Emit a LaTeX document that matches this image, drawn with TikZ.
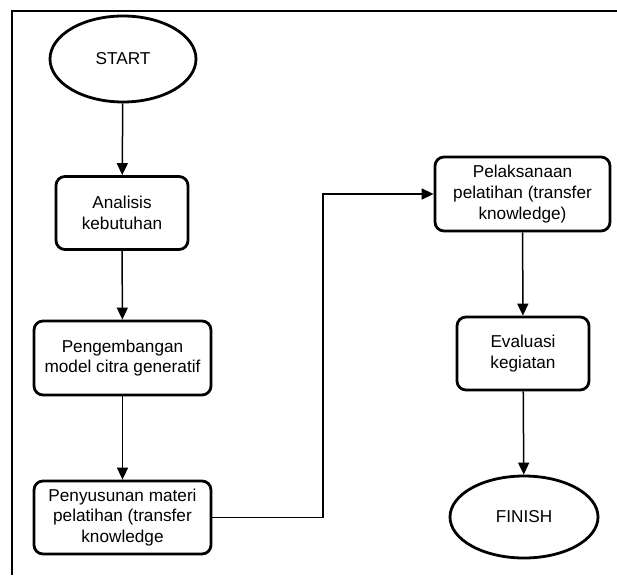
\documentclass[tikz,border=0pt]{standalone}
\usepackage{fontspec}
\setmainfont{Liberation Sans}
\usetikzlibrary{shapes.geometric,arrows.meta}
\begin{document}
\begin{tikzpicture}[x=1pt,y=-1pt,
  box/.style={draw, line width=2.8pt, rounded corners=9pt, align=center, inner sep=0pt,
    font=\fontsize{17.2}{20.8}\selectfont},
  term/.style={draw, ellipse, line width=2.8pt, inner sep=0pt, font=\fontsize{17.2}{20.8}\selectfont},
  conn/.style={line width=1.5pt, -{Triangle[length=12pt,width=11pt]}}]
\useasboundingbox (0,0) rectangle (617,575);
\draw[line width=2.4pt] (12,575) -- (12,11) -- (617,11);
\node[term, minimum width=146pt, minimum height=86pt] (start) at (123,59) {START};
\node[box, minimum width=132pt, minimum height=73pt] (analisis) at (122,213) {Analisis\\kebutuhan};
\node[box, minimum width=177pt, minimum height=74pt] (model) at (122.5,358) {Pengembangan\\model citra generatif};
\node[box, minimum width=177pt, minimum height=73pt] (materi) at (122.5,517.5) {Penyusunan materi\\pelatihan (transfer\\knowledge};
\node[box, minimum width=175pt, minimum height=74pt] (pelaks) at (522.5,194) {Pelaksanaan\\pelatihan (transfer\\knowledge)};
\node[box, minimum width=132pt, minimum height=73pt] (eval) at (523,353.5) {Evaluasi\\kegiatan};
\node[term, minimum width=148pt, minimum height=82pt] (finish) at (524,517) {FINISH};
\draw[conn] (start) -- (analisis);
\draw[conn] (analisis) -- (model);
\draw[conn] (model) -- (materi);
\draw[conn] (materi.east) -- (323,517.5) |- (pelaks.west);
\draw[conn] (pelaks) -- (eval);
\draw[conn] (eval) -- (finish);
\end{tikzpicture}
\end{document}
